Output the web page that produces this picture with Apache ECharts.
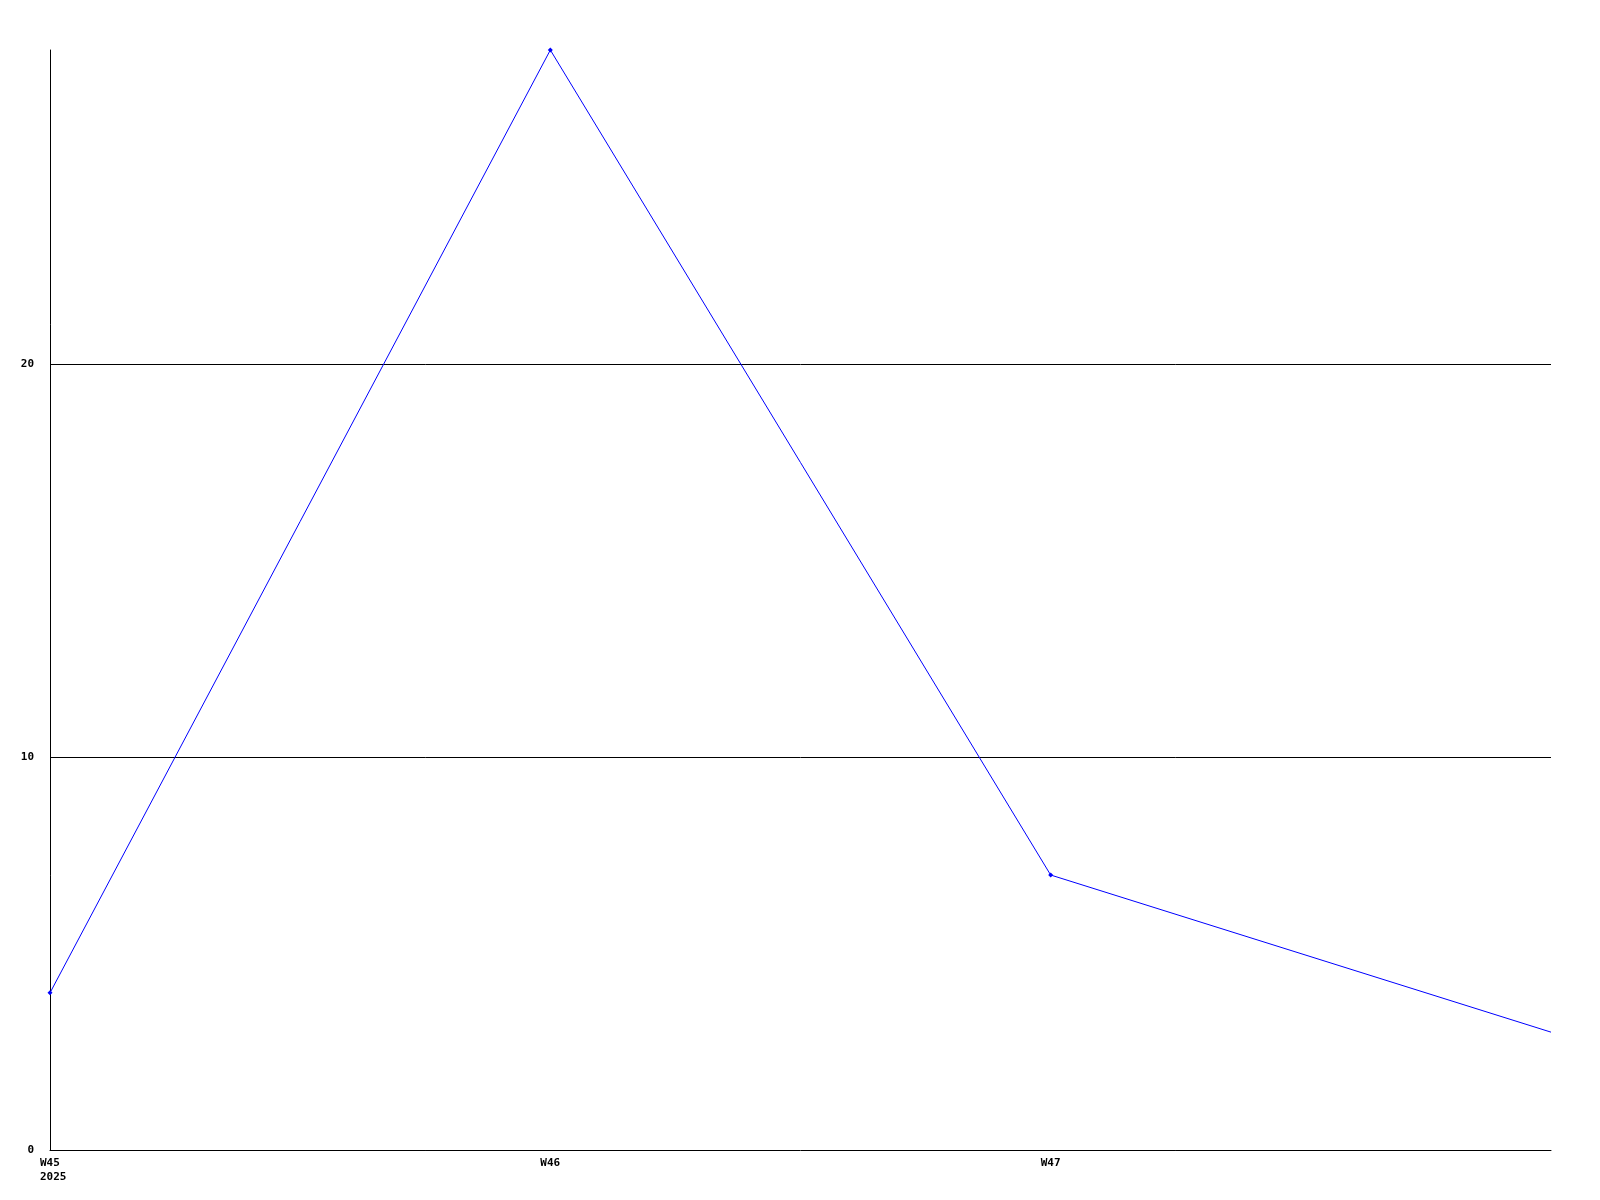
<!DOCTYPE html>
<html>
<head>
<meta charset="utf-8">
<script src="https://cdn.jsdelivr.net/npm/echarts@6/dist/echarts.min.js"></script>
<style>
html,body{margin:0;padding:0;background:#fff;}
#chart{width:1600px;height:1200px;}
</style>
</head>
<body>
<div id="chart"></div>
<script>
var weeks = ['W45', 'W46', 'W47', 'W48'];
var yearLabel = '2025';
var values = [4, 28, 7, 3];
var yMin = 0, yMax = 28, yStep = 10;

var chart = echarts.init(document.getElementById('chart'), null, {renderer: 'canvas'});
var seriesData = values.map(function (v, i) {
  return i === values.length - 1 ? {value: v, symbol: 'none'} : v;
});
chart.setOption({
  animation: false,
  backgroundColor: '#ffffff',
  grid: {left: 50, right: 49, top: 50, bottom: 50, containLabel: false},
  xAxis: {
    type: 'category',
    data: weeks,
    boundaryGap: false,
    axisLine: {show: true, lineStyle: {color: '#000', width: 1}},
    axisTick: {show: false},
    splitLine: {show: false},
    axisLabel: {
      show: true,
      margin: 6,
      align: 'center',
      width: 20,
      overflow: 'none',
      showMaxLabel: false,
      formatter: function (v, i) {
        if (i === weeks.length - 1) return '';
        return i === 0 ? '{a|' + v + '}\n{a|' + yearLabel + '}' : '{a|' + v + '}';
      },
      rich: {
        a: {align: 'left', fontFamily: 'DejaVu Sans Mono', fontWeight: 'bold', fontSize: 11, lineHeight: 14, color: '#000'}
      }
    }
  },
  yAxis: {
    type: 'value',
    min: yMin,
    max: yMax,
    interval: yStep,
    axisLine: {show: true, lineStyle: {color: '#000', width: 1}},
    axisTick: {show: false},
    splitLine: {show: true, showMinLine: false, showMaxLine: false, lineStyle: {color: '#000', width: 1}},
    axisLabel: {
      margin: 16,
      padding: [2, 0, 0, 0],
      showMaxLabel: false,
      fontFamily: 'DejaVu Sans Mono',
      fontWeight: 'bold',
      fontSize: 11,
      color: '#000'
    }
  },
  series: [{
    type: 'line',
    data: seriesData,
    symbol: 'diamond',
    symbolSize: 5,
    showSymbol: true,
    lineStyle: {color: '#0000ff', width: 1},
    itemStyle: {color: '#0000ff'},
    clip: false
  }]
});
</script>
</body>
</html>
